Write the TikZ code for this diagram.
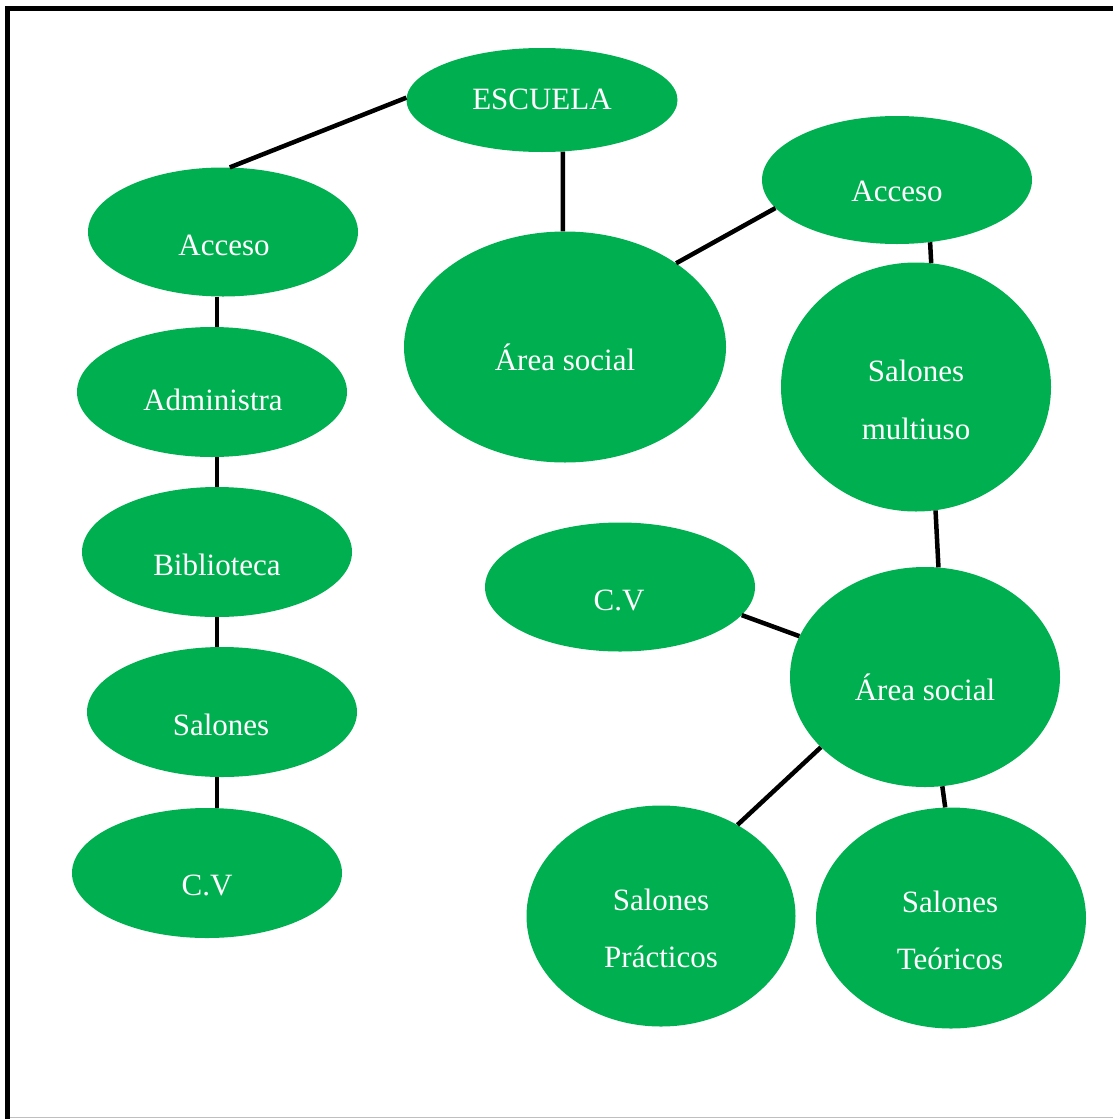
\documentclass[tikz,border=0pt]{standalone}
\usepackage{fontspec}
\setmainfont{Liberation Serif}
\usetikzlibrary{shapes.geometric}
\definecolor{ogreen}{RGB}{0,176,80}
\tikzset{
  oval/.style={ellipse, fill=ogreen, draw=none, inner sep=0pt},
  txt/.style={text=white, font=\fontsize{31}{37}\selectfont, anchor=base, inner sep=0pt},
  conn/.style={line width=4.5pt, black},
}
\begin{document}
\begin{tikzpicture}[x=1pt,y=-1pt]
\useasboundingbox (0,0) rectangle (1113,1119);
\fill[white] (0,0) rectangle (1113,1119);
% frame
\draw[black!25, line width=1.5pt] (10,1117.5) -- (1113,1117.5);
\draw[line width=5pt] (7.5,1119) -- (7.5,8.5) -- (1113,8.5);

% ovals
\node[oval, minimum width=271, minimum height=104] (esc)  at (542,100) {};
\node[oval, minimum width=270, minimum height=129] (acc1) at (223,232) {};
\node[oval, minimum width=270, minimum height=130] (adm)  at (212,392) {};
\node[oval, minimum width=270, minimum height=130] (bib)  at (217,552) {};
\node[oval, minimum width=270, minimum height=130] (sal)  at (222,712) {};
\node[oval, minimum width=270, minimum height=130] (cv1)  at (207,873) {};
\node[oval, minimum width=322, minimum height=231] (ar1)  at (565,347) {};
\node[oval, minimum width=270, minimum height=128] (acc2) at (897,180) {};
\node[oval, minimum width=270, minimum height=249] (mul)  at (916,387) {};
\node[oval, minimum width=270, minimum height=129] (cv2)  at (620,587) {};
\node[oval, minimum width=270, minimum height=220] (ar2)  at (925,677) {};
\node[oval, minimum width=269, minimum height=221] (pra)  at (661,916) {};
\node[oval, minimum width=270, minimum height=221] (teo)  at (951,918) {};

% texts
\node[txt] (tesc)  at (542,109) {ESCUELA};
\node[txt] (tacc1) at (224,255) {Acceso};
\node[txt] (tadm)  at (213,410) {Administra};
\node[txt] (tbib)  at (217,575) {Biblioteca};
\node[txt] (tsal)  at (221,735) {Salones};
\node[txt] (tcv1)  at (207,895) {C.V};
\node[txt] (tar1)  at (565,370) {Área social};
\node[txt] (tacc2) at (897,201) {Acceso};
\node[txt] (tmul1) at (916,381) {Salones};
\node[txt] (tmul2) at (916,439) {multiuso};
\node[txt] (tcv2)  at (619,610) {C.V};
\node[txt] (tar2)  at (925,700) {Área social};
\node[txt] (tpra1) at (661,910) {Salones};
\node[txt] (tpra2) at (661,967) {Prácticos};
\node[txt] (tteo1) at (950,912) {Salones};
\node[txt] (tteo2) at (950,969) {Teóricos};

% connectors
\draw[conn] (esc.179) -- (acc1.84);
\draw[conn] (esc.292) -- (ar1.91);
\draw[conn] (acc1.south -| bib.center) -- (adm.north -| bib.center);
\draw[conn] (adm.south -| bib.center) -- (bib.north);
\draw[conn] (bib.south) -- (sal.north -| bib.center);
\draw[conn] (sal.south -| bib.center) -- (cv1.north -| bib.center);
\draw[conn] (ar1.37) -- (acc2.193);
\draw[conn] (acc2.298) -- (mul.83);
\draw[conn] (mul.279.5) -- (ar2.83.3);
\draw[conn] (cv2.347) -- (ar2.162);
\draw[conn] (ar2.214.6) -- (pra.50.9);
\draw[conn] (ar2.279.3) -- (teo.93.6);
\end{tikzpicture}
\end{document}
